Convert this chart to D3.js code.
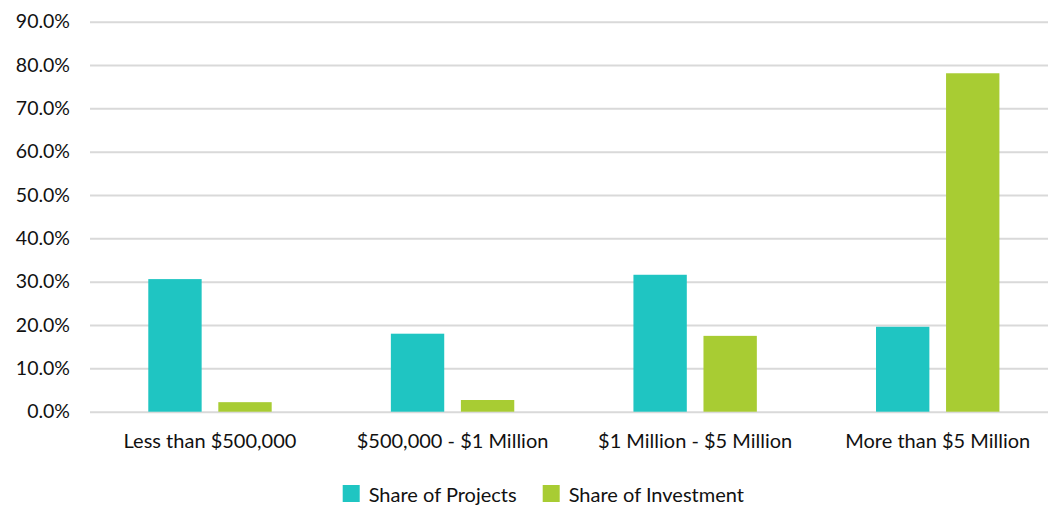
<!DOCTYPE html>
<html><head><meta charset="utf-8">
<script src="https://cdn.jsdelivr.net/npm/d3@7"></script>
<style>body{margin:0;background:#fff;} text{font-family:Lato, sans-serif;}</style>
</head><body>
<svg id="c" width="1048" height="506"></svg>
<script>
const categories = ["Less than $500,000", "$500,000 - $1 Million", "$1 Million - $5 Million", "More than $5 Million"];
const seriesNames = ["Share of Projects", "Share of Investment"];
const shareOfProjects = [30.6, 18.0, 31.6, 19.6];
const shareOfInvestment = [2.2, 2.7, 17.5, 78.1];
const yTicks = [0, 10, 20, 30, 40, 50, 60, 70, 80, 90];
const colors = ["#1FC5C2", "#A8CC33"];

const svg = d3.select("#c");
const y = d3.scaleLinear().domain([0, 90]).range([411.7, 21.7]);
const x0 = d3.scaleBand().domain(categories).range([88.7, 1059]).padding(0);
const x1 = d3.scaleBand().domain(seriesNames).range([-61.7, 61.7]).paddingInner(0.238).paddingOuter(0);

const grid = svg.append("g").attr("transform", "translate(90,0)")
  .call(d3.axisLeft(y).tickValues(yTicks).tickSize(-(1048-90)).tickFormat(d => d.toFixed(1) + "%"));
grid.select(".domain").remove();
grid.selectAll(".tick line").attr("stroke", "#d9d9d9").attr("stroke-width", 2);
grid.selectAll(".tick text").attr("fill", "#111").style("font-size", "19.5px").attr("x", -20).attr("text-anchor", "end");

const data = categories.map((c, i) => ({cat: c, vals: [shareOfProjects[i], shareOfInvestment[i]]}));
const groups = svg.append("g").selectAll("g").data(data).join("g")
  .attr("transform", d => `translate(${x0(d.cat) + x0.bandwidth()/2},0)`);
groups.selectAll("rect").data(d => d.vals.map((v, j) => ({s: seriesNames[j], v, j}))).join("rect")
  .attr("x", d => x1(d.s)).attr("width", x1.bandwidth())
  .attr("y", d => y(d.v)).attr("height", d => y(0) - y(d.v))
  .attr("fill", d => colors[d.j]);

const xa = svg.append("g").attr("transform", "translate(0,411.7)")
  .call(d3.axisBottom(x0).tickSize(0).tickPadding(22));
xa.select(".domain").remove();
xa.selectAll("text").attr("fill", "#111").style("font-size", "20px");

const legend = svg.append("g");
const lx = [342.7, 542.7];
seriesNames.forEach((s, i) => {
  legend.append("rect").attr("x", lx[i]).attr("y", 485).attr("width", 17).attr("height", 17).attr("fill", colors[i]);
  legend.append("text").attr("x", lx[i] + 26).attr("y", 501.5).attr("fill", "#111").style("font-size", "20px").text(s);
});
</script>
</body></html>
